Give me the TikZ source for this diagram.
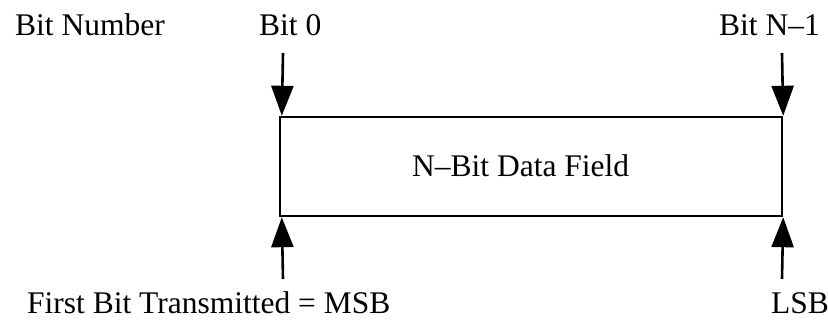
\documentclass[tikz,border=0pt]{standalone}
\usepackage{fontspec}
\setmainfont{Liberation Serif}
\usetikzlibrary{arrows.meta}
\begin{document}
\begin{tikzpicture}[x=1pt,y=-1pt,
  lbl/.style={font=\fontsize{31.5}{34}\selectfont, inner sep=0pt, anchor=base west},
  arr/.style={line width=2.6pt, -{Triangle[width=22pt,length=30pt]}},
  field/.style={draw, line width=2.4pt, minimum width=502pt, minimum height=99pt, inner sep=0pt}]
\useasboundingbox (0,0) rectangle (828,320);
\node[field] (box) at (531,166.5) {};
\node[lbl] (title) at (412,177) {N\textendash Bit Data Field};
\node[lbl] (bn) at (15,36) {Bit Number};
\node[lbl] (b0) at (259,36) {Bit 0};
\node[lbl] (bn1) at (719,36) {Bit N\textendash 1};
\node[lbl, text depth=0pt] (msb) at (27,314) {First Bit Transmitted = MSB};
\node[lbl, text depth=0pt] (lsb) at (771,314) {LSB};
\coordinate (t0) at (283,53);
\coordinate (t1) at (782,53);
\coordinate (u0) at (283,279);
\coordinate (u1) at (782,279);
\draw[arr] (t0) -- ([xshift=3pt]box.north west);
\draw[arr] (t1) -- (box.north east);
\draw[arr] (u0) -- ([xshift=3pt]box.south west);
\draw[arr] (u1) -- (box.south east);
\end{tikzpicture}
\end{document}
